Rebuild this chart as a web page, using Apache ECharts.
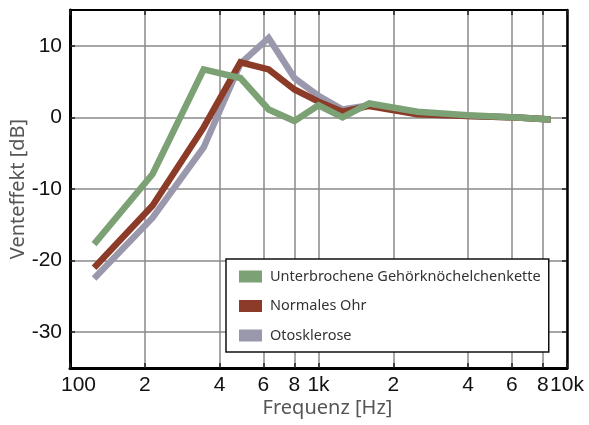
<!DOCTYPE html>
<html>
<head>
<meta charset="utf-8">
<script src="https://cdn.jsdelivr.net/npm/echarts@6/dist/echarts.min.js"></script>
<style>
  html, body { margin: 0; padding: 0; background: #fff; }
  #chart { width: 589px; height: 425px; }
</style>
</head>
<body>
<div id="chart"></div>
<script>
// Frequencies (Hz) of the measured points
const freqs = [125, 215, 345, 485, 630, 800, 1000, 1250, 1600, 2500, 4000, 6300, 8600];

// Vent effect (dB) per condition
const ossicularChain = [-17.7, -7.9, 6.7, 5.5, 1.1, -0.5, 1.7, 0.0, 1.95, 0.8, 0.3, 0.0, -0.3];
const normalEar      = [-21.0, -12.3, -1.4, 7.7, 6.7, 3.9, 2.2, 0.8, 1.6, 0.45, 0.2, 0.0, -0.3];
const otosclerosis   = [-22.5, -14.0, -4.2, 7.5, 11.1, 5.5, 3.0, 1.1, 1.7, 0.5, 0.2, 0.0, -0.3];

const seriesNames = ['Unterbrochene Gehörknöchelchenkette', 'Normales Ohr', 'Otosklerose'];

// Axis ticks
const xTickValues = [100, 200, 400, 600, 800, 1000, 2000, 4000, 6000, 8000, 10000];
const xTickLabels = ['100', '2', '4', '6', '8', '1k', '2', '4', '6', '8', '10k'];
const yTickValues = [-30, -20, -10, 0, 10];

const colors = ['#7ca175', '#8b3b27', '#9a98ad'];

function pairs(ys) { return freqs.map((f, i) => [f, ys[i]]); }

const tickFont = { fontFamily: 'Liberation Sans', fontSize: 21, color: '#111' };
const nameFont = { fontFamily: 'Noto Sans', fontSize: 20, color: '#555' };

const baseX = { type: 'log', logBase: 10, min: 100, max: 10000 };
const baseY = { type: 'value', min: -35, max: 15 };

const chart = echarts.init(document.getElementById('chart'), null, { renderer: 'canvas' });
chart.setOption({
  animation: false,
  backgroundColor: '#fff',
  grid: { left: 70, top: 10, right: 22, bottom: 57, containLabel: false, outerBoundsMode: 'none' },
  xAxis: [
    Object.assign({}, baseX, {
      position: 'bottom',
      name: 'Frequenz [Hz]',
      nameLocation: 'middle',
      nameGap: 30,
      nameMoveOverlap: false,
      nameTextStyle: Object.assign({ padding: [0, 0, 0, 18] }, nameFont),
      axisLine: { show: true, onZero: false, lineStyle: { color: '#000', width: 3 } },
      axisTick: { show: true, inside: true, length: 5, customValues: xTickValues,
                  lineStyle: { color: '#222', width: 1.5 } },
      axisLabel: Object.assign({ show: true, margin: 7, customValues: xTickValues,
        formatter: v => {
          const i = xTickValues.findIndex(t => Math.abs(t - v) / t < 1e-6);
          if (i < 0) return '';
          return i === 0 ? '{first|' + xTickLabels[i] + '}' : xTickLabels[i];
        },
        rich: { first: Object.assign({ padding: [0, 0, 0, 17] }, tickFont) }
      }, tickFont),
      splitLine: { show: true, lineStyle: { color: '#8a8a8a', width: 1.5 } },
      minorTick: { show: false },
      minorSplitLine: { show: false }
    }),
    Object.assign({}, baseX, {
      position: 'top',
      axisLine: { show: true, onZero: false, lineStyle: { color: '#000', width: 2 } },
      axisTick: { show: true, inside: true, length: 5, customValues: xTickValues,
                  lineStyle: { color: '#222', width: 1.5 } },
      axisLabel: { show: false },
      splitLine: { show: false }
    })
  ],
  yAxis: [
    Object.assign({}, baseY, {
      position: 'left',
      name: 'Venteffekt [dB]',
      nameLocation: 'middle',
      nameGap: 42,
      nameMoveOverlap: false,
      nameTextStyle: nameFont,
      axisLine: { show: true, onZero: false, lineStyle: { color: '#000', width: 3 } },
      axisTick: { show: true, inside: true, length: 5, customValues: yTickValues,
                  lineStyle: { color: '#222', width: 1.5 } },
      axisLabel: Object.assign({ show: true, margin: 8, customValues: yTickValues }, tickFont),
      splitLine: { show: true, lineStyle: { color: '#8a8a8a', width: 1.5 } }
    }),
    Object.assign({}, baseY, {
      position: 'right',
      axisLine: { show: true, onZero: false, lineStyle: { color: '#000', width: 2.5 } },
      axisTick: { show: true, inside: true, length: 5, customValues: yTickValues,
                  lineStyle: { color: '#222', width: 1.5 } },
      axisLabel: { show: false },
      splitLine: { show: false }
    })
  ],
  legend: {
    left: 226, top: 259,
    orient: 'vertical',
    data: seriesNames,
    icon: 'rect',
    itemWidth: 23, itemHeight: 12,
    itemGap: 14.5,
    padding: [10, 8, 9, 13],
    backgroundColor: '#fff',
    borderColor: '#111',
    borderWidth: 1.5,
    borderRadius: 0,
    textStyle: { fontFamily: 'Noto Sans', fontSize: 14.5, color: '#333', padding: [0, 0, 0, 3] }
  },
  series: [
    { name: seriesNames[0], data: pairs(ossicularChain), z: 5 },
    { name: seriesNames[1], data: pairs(normalEar), z: 4 },
    { name: seriesNames[2], data: pairs(otosclerosis), z: 3 }
  ].map((s, i) => Object.assign({
    type: 'line',
    xAxisIndex: 0, yAxisIndex: 0,
    showSymbol: false,
    symbol: 'none',
    color: colors[i],
    itemStyle: { color: colors[i] },
    lineStyle: { color: colors[i], width: 6.5, cap: 'butt', join: 'miter' },
    emphasis: { disabled: true }
  }, s))
});
</script>
</body>
</html>
